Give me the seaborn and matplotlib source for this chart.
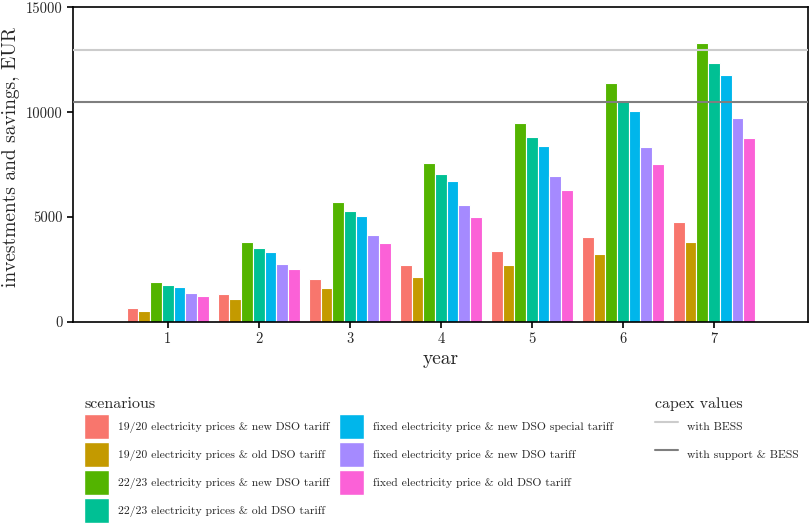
"""
Grouped bar chart: investments and savings per year by scenario, with capex lines.
"""
import pandas as pd
import matplotlib
matplotlib.use("Agg")
import matplotlib.pyplot as plt
from matplotlib.patches import Patch
from matplotlib.lines import Line2D
import seaborn as sns

years = ["1", "2", "3", "4", "5", "6", "7"]
scenarios = [
    "19/20 electricity prices & new DSO tariff",
    "19/20 electricity prices & old DSO tariff",
    "22/23 electricity prices & new DSO tariff",
    "22/23 electricity prices & old DSO tariff",
    "fixed electricity price & new DSO special tariff",
    "fixed electricity price & new DSO tariff",
    "fixed electricity price & old DSO tariff",
]
values_19_20_new = [650, 1320, 2040, 2710, 3380, 4050, 4760]
values_19_20_old = [510, 1080, 1610, 2140, 2710, 3230, 3810]
values_22_23_new = [1900, 3810, 5720, 7580, 9500, 11410, 13320]
values_22_23_old = [1750, 3520, 5290, 7060, 8830, 10590, 12360]
values_fixed_special = [1660, 3330, 5050, 6720, 8400, 10070, 11790]
values_fixed_new = [1370, 2760, 4140, 5580, 6960, 8350, 9730]
values_fixed_old = [1230, 2520, 3760, 5000, 6290, 7530, 8780]

capex_labels = ["with BESS", "with support & BESS"]
capex_values = [12980, 10500]

palette = ["#F8766D", "#C49A00", "#53B400", "#00C094", "#00B6EB", "#A58AFF", "#FB61D7"]
capex_colors = ["#cccccc", "#7f7f7f"]

series = [values_19_20_new, values_19_20_old, values_22_23_new, values_22_23_old,
          values_fixed_special, values_fixed_new, values_fixed_old]
rows = []
for name, vals in zip(scenarios, series):
    for yr, v in zip(years, vals):
        rows.append({"year": yr, "value": v, "scenario": name})
df = pd.DataFrame(rows)

sns.set_style("white")
plt.rcParams["font.family"] = ["cmr10", "DejaVu Serif"]
plt.rcParams["axes.formatter.use_mathtext"] = True

fig = plt.figure(figsize=(8.11, 5.26), dpi=100)
ax = fig.add_axes([0.090, 0.388, 0.906, 0.598])

sns.barplot(data=df, x="year", y="value", hue="scenario", hue_order=scenarios,
            palette=palette, saturation=1, width=0.9, edgecolor="white",
            linewidth=0.8, legend=False, ax=ax)

for val, col in zip(capex_values, capex_colors):
    ax.axhline(val, color=col, linewidth=1.5, zorder=3)

ax.set_xlim(-1.04, 7.03)
ax.set_ylim(0, 15000)
ax.set_yticks([0, 5000, 10000, 15000])
ax.set_yticklabels(["0", "5000", "10000", "15000"])
ax.set_xlabel("year", fontsize=14, labelpad=3)
ax.set_ylabel("investments and savings, EUR", fontsize=14, labelpad=3)
ax.yaxis.set_label_coords(-0.072, 0.525)
ax.tick_params(axis="both", labelsize=10.5, length=4, width=1.2,
               direction="out", bottom=True, left=True, color="black")
for sp in ax.spines.values():
    sp.set_color("black")
    sp.set_linewidth(1.2)

bar_handles = [Patch(facecolor=c, edgecolor="white", label=s)
               for c, s in zip(palette, scenarios)]
fig.legend(handles=bar_handles, title="scenarious", ncol=2,
           loc="upper left", bbox_to_anchor=(0.104, 0.245),
           frameon=False, fontsize=8.4, title_fontsize=11.5,
           handlelength=2.12, handleheight=2.85, labelspacing=0.3,
           columnspacing=0.85, handletextpad=0.76, alignment="left",
           borderaxespad=0, borderpad=0)

line_handles = [Line2D([0], [0], color=c, linewidth=1.5, label=l)
                for c, l in zip(capex_colors, capex_labels)]
fig.legend(handles=line_handles, title="capex values",
           loc="upper left", bbox_to_anchor=(0.808, 0.245),
           frameon=False, fontsize=8.4, title_fontsize=11.5,
           handlelength=1.95, handleheight=2.85, labelspacing=0.3,
           handletextpad=0.76, alignment="left",
           borderaxespad=0, borderpad=0)

fig.savefig("out.png", dpi=100)
plt.close(fig)
